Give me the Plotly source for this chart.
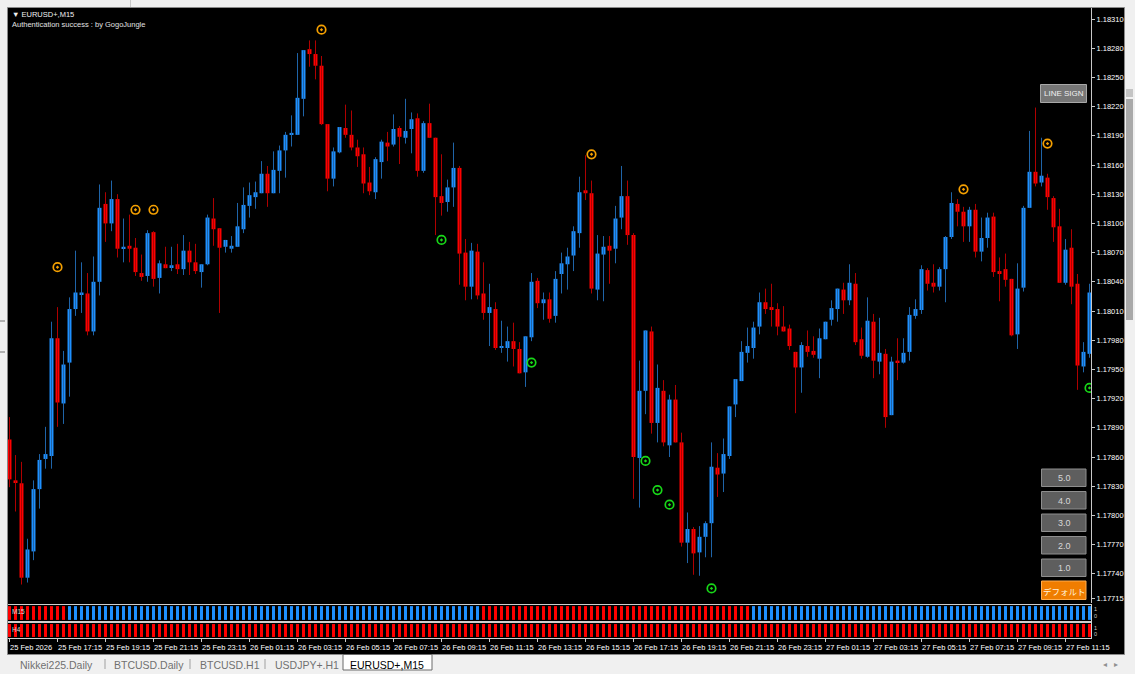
import plotly.graph_objects as go

W, H = 1135, 674
FONT = "Liberation Sans, Arial, sans-serif"

# ---------------- data (EURUSD+ M15) ----------------
open_p = [1.17878,1.17836,1.17833,1.17736,1.17763,1.17827,1.17858,1.17861,1.17982,1.17915,
          1.17957,1.18012,1.18027,1.18028,1.17989,1.18040,1.18120,1.18100,1.18125,1.18074,
          1.18077,1.18075,1.18049,1.18046,1.18091,1.18044,1.18058,1.18055,1.18058,1.18053,
          1.18072,1.18060,1.18050,1.18058,1.18105,1.18095,1.18076,1.18074,1.18076,1.18094,
          1.18118,1.18127,1.18131,1.18151,1.18131,1.18154,1.18175,1.18191,1.18191,1.18228,
          1.18279,1.18274,1.18262,1.18202,1.18146,1.18173,1.18198,1.18191,1.18178,1.18171,
          1.18142,1.18132,1.18163,1.18183,1.18181,1.18198,1.18188,1.18197,1.18208,1.18154,
          1.18203,1.18188,1.18128,1.18122,1.18137,1.18157,1.18070,1.18035,1.18071,1.18028,
          1.18008,1.18012,1.17972,1.17972,1.17979,1.17971,1.17947,1.17983,1.18041,1.18018,
          1.18022,1.18005,1.18048,1.18058,1.18067,1.18090,1.18134,1.18131,1.18032,1.18068,
          1.18077,1.18074,1.18106,1.18128,1.18088,1.17859,1.17928,1.17989,1.17895,1.17928,
          1.17872,1.17919,1.17875,1.17772,1.17786,1.17762,1.17778,1.17792,1.17849,1.17843,
          1.17861,1.17914,1.17938,1.17967,1.17972,1.17994,1.18019,1.18014,1.18012,1.17994,
          1.17992,1.17968,1.17952,1.17974,1.17969,1.17961,1.17981,1.18001,1.18012,1.18032,
          1.18021,1.18038,1.17981,1.17963,1.17999,1.17958,1.17966,1.17903,1.17959,1.17957,
          1.17968,1.18005,1.18011,1.18052,1.18039,1.18035,1.18053,1.18086,1.18120,1.18112,
          1.18097,1.18114,1.18071,1.18085,1.18107,1.18051,1.18053,1.18043,1.17986,1.18034,
          1.18116,1.18153,1.18142,1.18147,1.18126,1.18097,1.18039,1.18075,1.18038,1.17953,
          1.17966]
high_p = [1.17901,1.17862,1.17855,1.17776,1.17836,1.17863,1.17891,1.17999,1.18014,1.17969,
          1.18024,1.18072,1.18060,1.18049,1.18066,1.18140,1.18132,1.18144,1.18130,1.18105,
          1.18109,1.18085,1.18068,1.18093,1.18092,1.18062,1.18076,1.18076,1.18079,1.18088,
          1.18081,1.18079,1.18058,1.18109,1.18126,1.18095,1.18083,1.18087,1.18121,1.18137,
          1.18142,1.18143,1.18164,1.18159,1.18174,1.18180,1.18194,1.18211,1.18275,1.18278,
          1.18288,1.18288,1.18272,1.18202,1.18178,1.18199,1.18222,1.18216,1.18186,1.18178,
          1.18158,1.18168,1.18186,1.18194,1.18212,1.18200,1.18228,1.18214,1.18213,1.18205,
          1.18223,1.18188,1.18171,1.18145,1.18183,1.18159,1.18084,1.18080,1.18079,1.18060,
          1.18038,1.18019,1.18000,1.17994,1.17998,1.17978,1.17984,1.18049,1.18044,1.18029,
          1.18029,1.18051,1.18070,1.18075,1.18097,1.18148,1.18170,1.18144,1.18088,1.18087,
          1.18087,1.18118,1.18159,1.18144,1.18090,1.17959,1.17990,1.17994,1.17955,1.17939,
          1.17924,1.17934,1.17885,1.17803,1.17788,1.17789,1.17794,1.17875,1.17864,1.17879,
          1.17912,1.17940,1.17979,1.17993,1.17999,1.18029,1.18033,1.18038,1.18018,1.18015,
          1.17996,1.17968,1.17978,1.17990,1.17984,1.17992,1.17999,1.18021,1.18033,1.18039,
          1.18058,1.18049,1.17993,1.18024,1.18007,1.18003,1.17971,1.17963,1.17982,1.17982,
          1.18014,1.18022,1.18057,1.18054,1.18058,1.18055,1.18087,1.18132,1.18125,1.18117,
          1.18117,1.18120,1.18106,1.18111,1.18111,1.18065,1.18069,1.18043,1.18059,1.18118,
          1.18195,1.18219,1.18188,1.18151,1.18128,1.18115,1.18084,1.18094,1.18048,1.17978,
          1.18038]
low_p = [1.17829,1.17804,1.17729,1.17731,1.17754,1.17807,1.17848,1.17848,1.17891,1.17894,
         1.17922,1.18005,1.18008,1.17985,1.17985,1.18026,1.18081,1.18092,1.18065,1.18060,
         1.18060,1.18046,1.18041,1.18040,1.18035,1.18028,1.18054,1.18051,1.18048,1.18047,
         1.18047,1.18048,1.18034,1.18057,1.18077,1.18008,1.18070,1.18070,1.18076,1.18090,
         1.18106,1.18115,1.18131,1.18117,1.18131,1.18131,1.18147,1.18179,1.18191,1.18210,
         1.18261,1.18248,1.18201,1.18133,1.18138,1.18172,1.18188,1.18175,1.18158,1.18131,
         1.18129,1.18125,1.18146,1.18164,1.18179,1.18161,1.18182,1.18172,1.18148,1.18152,
         1.18188,1.18088,1.18108,1.18112,1.18117,1.18037,1.18021,1.18022,1.18022,1.18001,
         1.17974,1.17970,1.17967,1.17958,1.17953,1.17946,1.17932,1.17979,1.18013,1.18001,
         1.17998,1.17998,1.18028,1.18032,1.18051,1.18075,1.18124,1.18028,1.18021,1.18020,
         1.18038,1.18059,1.18094,1.18078,1.17817,1.17808,1.17904,1.17884,1.17875,1.17871,
         1.17860,1.17875,1.17768,1.17751,1.17739,1.17738,1.17757,1.17757,1.17819,1.17824,
         1.17858,1.17901,1.17938,1.17957,1.17961,1.17986,1.18007,1.17994,1.17985,1.17989,
         1.17970,1.17905,1.17926,1.17963,1.17962,1.17941,1.17981,1.17995,1.17999,1.18007,
         1.18016,1.17975,1.17961,1.17962,1.17941,1.17945,1.17890,1.17903,1.17939,1.17956,
         1.17959,1.18002,1.18007,1.18031,1.18029,1.18031,1.18019,1.18084,1.18097,1.18081,
         1.18081,1.18065,1.18061,1.18075,1.18045,1.18020,1.18035,1.17984,1.17971,1.18030,
         1.18116,1.18138,1.18138,1.18114,1.18081,1.18039,1.18037,1.18017,1.17929,1.17947,
         1.17962]
close_p = [1.17837,1.17834,1.17736,1.17765,1.17827,1.17857,1.17863,1.17982,1.17916,1.17955,
           1.18012,1.18029,1.18029,1.17989,1.18040,1.18116,1.18100,1.18125,1.18074,1.18076,
           1.18074,1.18050,1.18045,1.18090,1.18043,1.18059,1.18054,1.18057,1.18053,1.18072,
           1.18060,1.18051,1.18058,1.18106,1.18094,1.18075,1.18083,1.18077,1.18097,1.18119,
           1.18129,1.18132,1.18151,1.18131,1.18155,1.18175,1.18191,1.18193,1.18229,1.18278,
           1.18274,1.18262,1.18202,1.18146,1.18174,1.18199,1.18191,1.18178,1.18169,1.18141,
           1.18133,1.18166,1.18184,1.18179,1.18197,1.18189,1.18195,1.18207,1.18154,1.18203,
           1.18188,1.18127,1.18121,1.18137,1.18157,1.18069,1.18035,1.18072,1.18026,1.18008,
           1.18014,1.17972,1.17974,1.17979,1.17971,1.17946,1.17984,1.18040,1.18018,1.18022,
           1.18002,1.18043,1.18059,1.18066,1.18092,1.18132,1.18131,1.18033,1.18069,1.18076,
           1.18072,1.18105,1.18128,1.18088,1.17860,1.17928,1.17990,1.17895,1.17931,1.17875,
           1.17919,1.17875,1.17772,1.17786,1.17761,1.17778,1.17792,1.17850,1.17842,1.17863,
           1.17912,1.17940,1.17968,1.17974,1.17993,1.18019,1.18012,1.18012,1.17994,1.17989,
           1.17974,1.17952,1.17975,1.17968,1.17965,1.17982,1.17999,1.18013,1.18033,1.18021,
           1.18039,1.17978,1.17964,1.18000,1.17959,1.17967,1.17901,1.17958,1.17957,1.17967,
           1.18006,1.18012,1.18053,1.18038,1.18035,1.18053,1.18086,1.18121,1.18112,1.18097,
           1.18114,1.18071,1.18085,1.18106,1.18050,1.18048,1.18042,1.17985,1.18033,1.18116,
           1.18153,1.18141,1.18149,1.18127,1.18096,1.18039,1.18073,1.18035,1.17954,1.17968,
           1.18029]

# signal markers (bar index, price)
sell_idx = [8, 21, 24, 52, 97, 159, 173]
sell_px = [1.18055, 1.18114, 1.18114, 1.18299, 1.18171, 1.18135, 1.18182]
buy_idx = [72, 87, 106, 108, 110, 117, 180]
buy_px = [1.18083, 1.17957, 1.17856, 1.17826, 1.17811, 1.17725, 1.17931]

# trend strips (runs of bars)
m15_runs = [("down", 10), ("up", 69), ("down", 45), ("up", 57)]
h4_runs = [("down", 181)]

tick_idx = [0, 8, 16, 24, 32, 40, 48, 56, 64, 72, 80, 88, 96, 104, 112, 120, 128, 136, 144, 152, 160, 168, 176]
tick_labels = ["25 Feb 2026", "25 Feb 17:15", "25 Feb 19:15", "25 Feb 21:15", "25 Feb 23:15",
               "26 Feb 01:15", "26 Feb 03:15", "26 Feb 05:15", "26 Feb 07:15", "26 Feb 09:15",
               "26 Feb 11:15", "26 Feb 13:15", "26 Feb 15:15", "26 Feb 17:15", "26 Feb 19:15",
               "26 Feb 21:15", "26 Feb 23:15", "27 Feb 01:15", "27 Feb 03:15", "27 Feb 05:15",
               "27 Feb 07:15", "27 Feb 09:15", "27 Feb 11:15"]
price_ticks = [1.18310, 1.18280, 1.18250, 1.18220, 1.18190, 1.18160, 1.18130, 1.18100, 1.18070,
               1.18040, 1.18010, 1.17980, 1.17950, 1.17920, 1.17890, 1.17860, 1.17830, 1.17800,
               1.17770, 1.17740, 1.17715]

tabs = ["Nikkei225.Daily", "BTCUSD.Daily", "BTCUSD.H1", "USDJPY+.H1"]
active_tab = "EURUSD+,M15"
size_buttons = ["5.0", "4.0", "3.0", "2.0", "1.0"]

# ---------------- styling ----------------
UP_BODY, DN_BODY = "#1e90ff", "#ff0000"
UP_WICK, DN_WICK = "#1f64a8", "#b00000"


def px(x):
    return x / W


def py(y):
    return 1 - y / H


n = len(close_p)
idx = list(range(n))
is_up = [c >= o for o, c in zip(open_p, close_p)]

fig = go.Figure()

# wicks
for flag, col in [(True, UP_WICK), (False, DN_WICK)]:
    xs, ys = [], []
    for i in idx:
        if is_up[i] == flag:
            xs += [i, i, None]
            ys += [low_p[i], high_p[i], None]
    fig.add_trace(go.Scatter(x=xs, y=ys, mode="lines", line=dict(color=col, width=1),
                             hoverinfo="skip", xaxis="x", yaxis="y"))

# bodies
for flag, col in [(True, UP_BODY), (False, DN_BODY)]:
    xs = [i for i in idx if is_up[i] == flag]
    base = [min(open_p[i], close_p[i]) for i in xs]
    hgt = [max(abs(close_p[i] - open_p[i]), 0.000012) for i in xs]
    fig.add_trace(go.Bar(x=xs, y=hgt, base=base, width=0.66, marker=dict(color=col, line=dict(width=0)),
                         xaxis="x", yaxis="y", hoverinfo="skip"))

# signals
fig.add_trace(go.Scatter(x=sell_idx, y=sell_px, mode="markers", xaxis="x", yaxis="y",
                         marker=dict(symbol="circle-open-dot", size=8.5, color="#f5a000",
                                     line=dict(color="#f5a000", width=1.7))))
fig.add_trace(go.Scatter(x=buy_idx, y=buy_px, mode="markers", xaxis="x", yaxis="y",
                         marker=dict(symbol="circle-open-dot", size=8.5, color="#18d818",
                                     line=dict(color="#18d818", width=1.7))))


def run_colors(runs):
    out = []
    for state, cnt in runs:
        out += [UP_BODY if state == "up" else DN_BODY] * cnt
    return out


fig.add_trace(go.Bar(x=idx, y=[1] * n, width=0.5, marker=dict(color=run_colors(m15_runs), line=dict(width=0)),
                     xaxis="x2", yaxis="y2", hoverinfo="skip"))
fig.add_trace(go.Bar(x=idx, y=[1] * n, width=0.5, marker=dict(color=run_colors(h4_runs), line=dict(width=0)),
                     xaxis="x3", yaxis="y3", hoverinfo="skip"))

XDOM = [8 / W, 1091 / W]
XR = [-0.25, 180.25]
BOX = "#cfcfcf"

fig.update_layout(
    width=W, height=H, margin=dict(l=0, r=0, t=0, b=0),
    paper_bgcolor="#000000", plot_bgcolor="#000000",
    showlegend=False, barmode="overlay", hovermode=False,
    font=dict(family=FONT, color="#ffffff", size=8),
    xaxis=dict(domain=XDOM, range=XR, anchor="y", showgrid=False, zeroline=False,
               showticklabels=False, ticks="", showline=False),
    yaxis=dict(domain=[py(603), py(8)], range=[1.17710, 1.183213], anchor="x", side="right",
               showgrid=False, zeroline=False, showline=True, linecolor="#c8c8c8", linewidth=1,
               ticks="outside", ticklen=3, tickcolor="#c8c8c8",
               tickvals=price_ticks, ticktext=[f"{v:.5f}" for v in price_ticks],
               tickfont=dict(size=7.5, color="#ffffff", family=FONT)),
    xaxis2=dict(domain=XDOM, range=XR, anchor="y2", showgrid=False, zeroline=False,
                showticklabels=False, ticks="", showline=True, mirror=True, linecolor=BOX),
    yaxis2=dict(domain=[py(621), py(605)], range=[-0.08, 1.08], anchor="x2", showgrid=False,
                zeroline=False, showticklabels=False, ticks="", showline=True, mirror=True, linecolor=BOX),
    xaxis3=dict(domain=XDOM, range=XR, anchor="y3", showgrid=False, zeroline=False,
                showticklabels=False, ticks="outside", ticklen=3, tickcolor=BOX, tickvals=tick_idx,
                showline=True, mirror=True, linecolor=BOX),
    yaxis3=dict(domain=[py(638), py(623)], range=[-0.08, 1.08], anchor="x3", showgrid=False,
                zeroline=False, showticklabels=False, ticks="", showline=True, mirror=True, linecolor=BOX),
)

shapes = []
ann = []

# window frame (light gray chrome)
GRAY = "#f0f0f0"
shapes.append(dict(type="rect", xref="paper", yref="paper", x0=0, x1=1, y0=py(7.5), y1=1,
                   fillcolor=GRAY, line=dict(width=0)))
shapes.append(dict(type="rect", xref="paper", yref="paper", x0=0, x1=px(7.5), y0=0, y1=1,
                   fillcolor=GRAY, line=dict(width=0)))
shapes.append(dict(type="rect", xref="paper", yref="paper", x0=px(1124.5), x1=1, y0=0, y1=1,
                   fillcolor=GRAY, line=dict(width=0)))
shapes.append(dict(type="rect", xref="paper", yref="paper", x0=0, x1=1, y0=0, y1=py(654.5),
                   fillcolor=GRAY, line=dict(width=0)))
# chart border
shapes.append(dict(type="rect", xref="paper", yref="paper", x0=px(7.5), x1=px(1124.5), y0=py(654.5), y1=py(7.5),
                   line=dict(color="#8a8a8a", width=1), fillcolor="rgba(0,0,0,0)"))
shapes.append(dict(type="line", xref="paper", yref="paper", x0=px(130.5), x1=px(130.5), y0=py(0), y1=py(7),
                   line=dict(color="#c8c8c8", width=1)))
# left gutter marks
for yy in (321, 352):
    shapes.append(dict(type="line", xref="paper", yref="paper", x0=0, x1=px(5), y0=py(yy), y1=py(yy),
                       line=dict(color="#707070", width=1)))
# scrollbar
shapes.append(dict(type="rect", xref="paper", yref="paper", x0=px(1126), x1=px(1133), y0=py(320), y1=py(99),
                   fillcolor="#a9a9a9", line=dict(width=0)))
shapes.append(dict(type="rect", xref="paper", yref="paper", x0=px(1126), x1=px(1133), y0=py(97), y1=py(89),
                   fillcolor="#c4c4c4", line=dict(width=0)))

# bottom tabs
tab_x = [18, 112, 198, 273]
for t, x in zip(tabs, tab_x):
    ann.append(dict(text=t, x=px(x), y=py(664.5), xref="paper", yref="paper", xanchor="left", yanchor="middle",
                    showarrow=False, font=dict(size=10.5, color="#707070", family=FONT)))
for sx in (105, 190, 265):
    shapes.append(dict(type="line", xref="paper", yref="paper", x0=px(sx), x1=px(sx), y0=py(659), y1=py(669),
                       line=dict(color="#a0a0a0", width=1)))
shapes.append(dict(type="rect", xref="paper", yref="paper", x0=px(343), x1=px(432), y0=py(670), y1=py(654.5),
                   fillcolor="#ffffff", line=dict(color="#6a6a6a", width=1)))
ann.append(dict(text=active_tab, x=px(348), y=py(664.5), xref="paper", yref="paper", xanchor="left",
                yanchor="middle", showarrow=False, font=dict(size=10.5, color="#000000", family=FONT)))
ann.append(dict(text="◂   ▸", x=px(1110), y=py(664), xref="paper", yref="paper", xanchor="center",
                yanchor="middle", showarrow=False, font=dict(size=8, color="#909090", family=FONT)))

# header text
ann.append(dict(text="▼ EURUSD+,M15", x=px(10), y=py(14), xref="paper", yref="paper", xanchor="left",
                yanchor="middle", showarrow=False, font=dict(size=7.5, color="#f0f0f0", family=FONT)))
ann.append(dict(text="Authentication success : by GogoJungle", x=px(10), y=py(24), xref="paper", yref="paper",
                xanchor="left", yanchor="middle", showarrow=False, font=dict(size=7.5, color="#e0e0e0", family=FONT)))

# sub-panel labels
ann.append(dict(text="M15", x=px(10), y=py(611), xref="paper", yref="paper", xanchor="left", yanchor="middle",
                showarrow=False, font=dict(size=6.5, color="#d8d8d8", family=FONT)))
ann.append(dict(text="H4", x=px(10), y=py(629), xref="paper", yref="paper", xanchor="left", yanchor="middle",
                showarrow=False, font=dict(size=6.5, color="#d8d8d8", family=FONT)))
for y1, y0 in ((609, 615.5), (627.5, 633.5)):
    ann.append(dict(text="1", x=px(1095), y=py(y1), xref="paper", yref="paper", xanchor="center",
                    yanchor="middle", showarrow=False, font=dict(size=5.5, color="#c8c8c8", family=FONT)))
    ann.append(dict(text="0", x=px(1095), y=py(y0), xref="paper", yref="paper", xanchor="center",
                    yanchor="middle", showarrow=False, font=dict(size=5.5, color="#c8c8c8", family=FONT)))

# time labels
for t, lab in zip(tick_idx, tick_labels):
    ann.append(dict(text=lab, x=t, xref="x3", y=py(647), yref="paper", xanchor="left", yanchor="middle",
                    xshift=-2, showarrow=False, font=dict(size=7.5, color="#ffffff", family=FONT)))

# buttons
shapes.append(dict(type="rect", xref="paper", yref="paper", x0=px(1040.5), x1=px(1086.5), y0=py(102.5), y1=py(84.5),
                   fillcolor="#767676", line=dict(color="#a8a8a8", width=1)))
ann.append(dict(text="LINE SIGN", x=px(1063.5), y=py(93.5), xref="paper", yref="paper", xanchor="center",
                yanchor="middle", showarrow=False, font=dict(size=8, color="#f0f0f0", family=FONT)))
btn_top = [469, 491.5, 514, 536.5, 559]
for lab, yt in zip(size_buttons, btn_top):
    shapes.append(dict(type="rect", xref="paper", yref="paper", x0=px(1041.5), x1=px(1086), y0=py(yt + 17.5),
                       y1=py(yt), fillcolor="#5e5e5e", line=dict(color="#8e8e8e", width=1)))
    ann.append(dict(text=lab, x=px(1064), y=py(yt + 9), xref="paper", yref="paper", xanchor="center",
                    yanchor="middle", showarrow=False, font=dict(size=9, color="#d8d8d8", family=FONT)))
shapes.append(dict(type="rect", xref="paper", yref="paper", x0=px(1041.5), x1=px(1086), y0=py(599.5), y1=py(581),
                   fillcolor="#ef7d00", line=dict(color="#ffae50", width=1)))
ann.append(dict(text="デフォルト", x=px(1064), y=py(590.5), xref="paper", yref="paper", xanchor="center",
                yanchor="middle", showarrow=False,
                font=dict(size=8.5, color="#fff2dc", family="Noto Sans CJK JP, sans-serif")))

fig.update_layout(shapes=shapes, annotations=ann)
fig.write_html("out.html", config={"displayModeBar": False},
               post_script="document.body.style.margin='0';document.body.style.padding='0';"
                           "document.body.style.overflow='hidden';")
